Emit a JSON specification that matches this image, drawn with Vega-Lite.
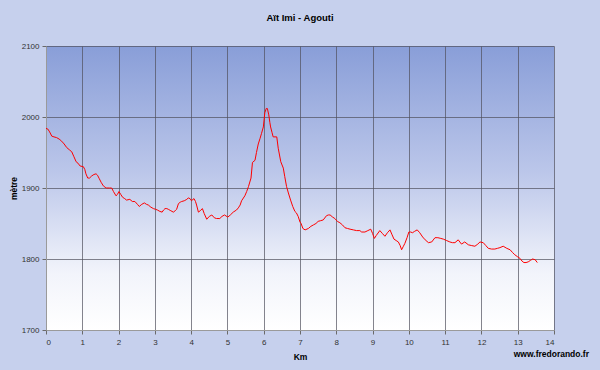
{
  "$schema": "https://vega.github.io/schema/vega-lite/v6.json",
  "width": 508,
  "height": 284,
  "autosize": "none",
  "padding": {"left": 46, "top": 46, "right": 46, "bottom": 40},
  "background": "#c6d0ed",
  "title": {
    "text": "Aït Imi - Agouti",
    "font": "Liberation Sans",
    "fontSize": 9.5,
    "fontWeight": "bold",
    "color": "#000000",
    "frame": "group",
    "anchor": "middle",
    "baseline": "bottom",
    "offset": 10
  },
  "datasets": {
    "profile": [
      {"km": 0.00, "alt": 1984}, {"km": 0.05, "alt": 1983}, {"km": 0.10, "alt": 1979}, {"km": 0.16, "alt": 1973},
      {"km": 0.22, "alt": 1972}, {"km": 0.29, "alt": 1971}, {"km": 0.36, "alt": 1969}, {"km": 0.43, "alt": 1966},
      {"km": 0.50, "alt": 1962}, {"km": 0.57, "alt": 1957}, {"km": 0.64, "alt": 1954}, {"km": 0.71, "alt": 1951},
      {"km": 0.77, "alt": 1944}, {"km": 0.83, "alt": 1937}, {"km": 0.88, "alt": 1935}, {"km": 0.94, "alt": 1931},
      {"km": 1.03, "alt": 1930}, {"km": 1.07, "alt": 1926}, {"km": 1.10, "alt": 1920}, {"km": 1.15, "alt": 1914},
      {"km": 1.20, "alt": 1914}, {"km": 1.26, "alt": 1917}, {"km": 1.32, "alt": 1919}, {"km": 1.38, "alt": 1920},
      {"km": 1.42, "alt": 1918}, {"km": 1.47, "alt": 1913}, {"km": 1.52, "alt": 1908}, {"km": 1.58, "alt": 1903},
      {"km": 1.63, "alt": 1901}, {"km": 1.67, "alt": 1900}, {"km": 1.75, "alt": 1900}, {"km": 1.81, "alt": 1900},
      {"km": 1.86, "alt": 1895}, {"km": 1.93, "alt": 1889}, {"km": 1.97, "alt": 1891}, {"km": 2.01, "alt": 1895},
      {"km": 2.06, "alt": 1891}, {"km": 2.11, "alt": 1887}, {"km": 2.17, "alt": 1885}, {"km": 2.22, "alt": 1883},
      {"km": 2.31, "alt": 1884}, {"km": 2.38, "alt": 1881}, {"km": 2.45, "alt": 1881}, {"km": 2.52, "alt": 1877},
      {"km": 2.57, "alt": 1874}, {"km": 2.64, "alt": 1877}, {"km": 2.71, "alt": 1879}, {"km": 2.77, "alt": 1877},
      {"km": 2.82, "alt": 1876}, {"km": 2.89, "alt": 1873}, {"km": 2.96, "alt": 1871}, {"km": 3.02, "alt": 1870},
      {"km": 3.07, "alt": 1869}, {"km": 3.14, "alt": 1867}, {"km": 3.20, "alt": 1866}, {"km": 3.24, "alt": 1869},
      {"km": 3.28, "alt": 1871}, {"km": 3.33, "alt": 1871}, {"km": 3.37, "alt": 1870}, {"km": 3.44, "alt": 1868},
      {"km": 3.51, "alt": 1866}, {"km": 3.56, "alt": 1868}, {"km": 3.60, "alt": 1870}, {"km": 3.65, "alt": 1878},
      {"km": 3.70, "alt": 1880}, {"km": 3.74, "alt": 1881}, {"km": 3.81, "alt": 1882}, {"km": 3.88, "alt": 1884},
      {"km": 3.92, "alt": 1886}, {"km": 3.97, "alt": 1885}, {"km": 4.01, "alt": 1882}, {"km": 4.05, "alt": 1884},
      {"km": 4.08, "alt": 1885}, {"km": 4.12, "alt": 1881}, {"km": 4.15, "alt": 1876}, {"km": 4.20, "alt": 1866},
      {"km": 4.25, "alt": 1868}, {"km": 4.31, "alt": 1871}, {"km": 4.36, "alt": 1864}, {"km": 4.43, "alt": 1856},
      {"km": 4.50, "alt": 1860}, {"km": 4.57, "alt": 1862}, {"km": 4.64, "alt": 1858}, {"km": 4.70, "alt": 1857},
      {"km": 4.79, "alt": 1857}, {"km": 4.85, "alt": 1860}, {"km": 4.92, "alt": 1862}, {"km": 5.01, "alt": 1859},
      {"km": 5.08, "alt": 1862}, {"km": 5.16, "alt": 1866}, {"km": 5.25, "alt": 1869}, {"km": 5.30, "alt": 1872},
      {"km": 5.35, "alt": 1876}, {"km": 5.39, "alt": 1882}, {"km": 5.48, "alt": 1889}, {"km": 5.53, "alt": 1895},
      {"km": 5.58, "alt": 1902}, {"km": 5.65, "alt": 1914}, {"km": 5.69, "alt": 1936}, {"km": 5.76, "alt": 1939},
      {"km": 5.80, "alt": 1950}, {"km": 5.85, "alt": 1962}, {"km": 5.90, "alt": 1970}, {"km": 5.94, "alt": 1977},
      {"km": 5.99, "alt": 1986}, {"km": 6.03, "alt": 2006}, {"km": 6.07, "alt": 2012}, {"km": 6.10, "alt": 2012},
      {"km": 6.14, "alt": 2003}, {"km": 6.17, "alt": 1992}, {"km": 6.19, "alt": 1986}, {"km": 6.23, "alt": 1978},
      {"km": 6.26, "alt": 1972}, {"km": 6.36, "alt": 1972}, {"km": 6.40, "alt": 1956}, {"km": 6.47, "alt": 1937},
      {"km": 6.54, "alt": 1928}, {"km": 6.58, "alt": 1916}, {"km": 6.63, "alt": 1902}, {"km": 6.68, "alt": 1893},
      {"km": 6.74, "alt": 1883}, {"km": 6.80, "alt": 1874}, {"km": 6.86, "alt": 1867}, {"km": 6.90, "alt": 1865},
      {"km": 6.95, "alt": 1860}, {"km": 7.00, "alt": 1852}, {"km": 7.03, "alt": 1850}, {"km": 7.08, "alt": 1843},
      {"km": 7.14, "alt": 1841}, {"km": 7.23, "alt": 1843}, {"km": 7.30, "alt": 1846}, {"km": 7.37, "alt": 1848},
      {"km": 7.44, "alt": 1850}, {"km": 7.50, "alt": 1853}, {"km": 7.57, "alt": 1854}, {"km": 7.64, "alt": 1855},
      {"km": 7.73, "alt": 1861}, {"km": 7.78, "alt": 1862}, {"km": 7.83, "alt": 1862}, {"km": 7.90, "alt": 1859},
      {"km": 7.96, "alt": 1857}, {"km": 8.03, "alt": 1853}, {"km": 8.10, "alt": 1851}, {"km": 8.17, "alt": 1848},
      {"km": 8.24, "alt": 1844}, {"km": 8.31, "alt": 1843}, {"km": 8.38, "alt": 1842}, {"km": 8.47, "alt": 1841},
      {"km": 8.56, "alt": 1840}, {"km": 8.65, "alt": 1840}, {"km": 8.70, "alt": 1838}, {"km": 8.79, "alt": 1838},
      {"km": 8.87, "alt": 1840}, {"km": 8.95, "alt": 1842}, {"km": 9.00, "alt": 1836}, {"km": 9.05, "alt": 1829},
      {"km": 9.10, "alt": 1833}, {"km": 9.20, "alt": 1840}, {"km": 9.27, "alt": 1836}, {"km": 9.34, "alt": 1832},
      {"km": 9.41, "alt": 1837}, {"km": 9.48, "alt": 1841}, {"km": 9.53, "alt": 1835}, {"km": 9.59, "alt": 1828},
      {"km": 9.65, "alt": 1826}, {"km": 9.71, "alt": 1824}, {"km": 9.76, "alt": 1819}, {"km": 9.80, "alt": 1813},
      {"km": 9.85, "alt": 1818}, {"km": 9.89, "alt": 1822}, {"km": 9.95, "alt": 1830}, {"km": 10.00, "alt": 1838},
      {"km": 10.05, "alt": 1838}, {"km": 10.10, "alt": 1837}, {"km": 10.16, "alt": 1839}, {"km": 10.23, "alt": 1841},
      {"km": 10.30, "alt": 1837}, {"km": 10.38, "alt": 1831}, {"km": 10.45, "alt": 1827}, {"km": 10.54, "alt": 1823},
      {"km": 10.63, "alt": 1824}, {"km": 10.72, "alt": 1830}, {"km": 10.80, "alt": 1830}, {"km": 10.88, "alt": 1829},
      {"km": 10.95, "alt": 1828}, {"km": 11.04, "alt": 1826}, {"km": 11.13, "alt": 1824}, {"km": 11.20, "alt": 1823},
      {"km": 11.27, "alt": 1823}, {"km": 11.36, "alt": 1827}, {"km": 11.45, "alt": 1821}, {"km": 11.54, "alt": 1824},
      {"km": 11.64, "alt": 1820}, {"km": 11.72, "alt": 1819}, {"km": 11.82, "alt": 1818}, {"km": 11.90, "alt": 1821},
      {"km": 11.96, "alt": 1824}, {"km": 12.05, "alt": 1823}, {"km": 12.12, "alt": 1819}, {"km": 12.19, "alt": 1815},
      {"km": 12.28, "alt": 1814}, {"km": 12.37, "alt": 1814}, {"km": 12.44, "alt": 1815}, {"km": 12.51, "alt": 1816},
      {"km": 12.60, "alt": 1818}, {"km": 12.70, "alt": 1815}, {"km": 12.79, "alt": 1813}, {"km": 12.86, "alt": 1809},
      {"km": 12.92, "alt": 1806}, {"km": 13.00, "alt": 1803}, {"km": 13.06, "alt": 1801}, {"km": 13.12, "alt": 1797},
      {"km": 13.17, "alt": 1795}, {"km": 13.23, "alt": 1795}, {"km": 13.29, "alt": 1796}, {"km": 13.35, "alt": 1798},
      {"km": 13.41, "alt": 1800}, {"km": 13.48, "alt": 1799}, {"km": 13.54, "alt": 1795}
    ],
    "credit": [{"km": 14, "alt": 1700, "label": "www.fredorando.fr"}],
    "panel": [{"part": "fond"}]
  },
  "encoding": {
    "x": {
      "field": "km", "type": "quantitative",
      "scale": {"domain": [0, 14], "nice": false, "zero": false},
      "axis": {"title": "Km", "values": [0,1,2,3,4,5,6,7,8,9,10,11,12,13,14], "tickCount": 30, "format": "d", "labelOverlap": false, "titlePadding": 6}
    },
    "y": {
      "field": "alt", "type": "quantitative",
      "scale": {"domain": [1700, 2100], "nice": false, "zero": false},
      "axis": {"title": "mètre", "values": [1700,1800,1900,2000,2100], "tickCount": 10, "format": "d", "labelOverlap": false, "titlePadding": 3}
    }
  },
  "layer": [
    {
      "data": {"name": "panel"},
      "mark": {
        "type": "rect", "clip": false,
        "color": {
          "gradient": "linear", "x1": 0, "y1": 0, "x2": 0, "y2": 1,
          "stops": [
            {"offset": 0, "color": "#ffffff"},
            {"offset": 0.3, "color": "#f3f5fb"},
            {"offset": 0.62, "color": "#ccd4ef"},
            {"offset": 1, "color": "#889ed8"}
          ]
        }
      },
      "encoding": {
        "x": {"datum": -1.5, "type": "quantitative"}, "x2": {"datum": 15.5},
        "y": {"datum": 2175, "type": "quantitative"}, "y2": {"datum": 1630}
      }
    },
    {
      "data": {"name": "panel"},
      "mark": {
        "type": "rect", "clip": false,
        "color": {
          "gradient": "linear", "x1": 0, "y1": 0, "x2": 0, "y2": 1,
          "stops": [
            {"offset": 0, "color": "#899ed8"},
            {"offset": 0.45, "color": "#bcc7ea"},
            {"offset": 0.8, "color": "#f2f4fb"},
            {"offset": 1, "color": "#ffffff"}
          ]
        }
      },
      "encoding": {
        "x": {"datum": 0, "type": "quantitative"}, "x2": {"datum": 14},
        "y": {"datum": 2100, "type": "quantitative"}, "y2": {"datum": 1700}
      }
    },
    {
      "data": {"name": "profile"},
      "mark": {"type": "line", "color": "#ff0000", "strokeWidth": 1, "interpolate": "linear"}
    },
    {
      "data": {"name": "credit"},
      "mark": {"type": "text", "align": "right", "baseline": "middle", "dx": 35, "dy": 24, "font": "Liberation Sans", "fontSize": 8.5, "fontWeight": "bold", "color": "#000000"},
      "encoding": {
        "text": {"field": "label"}
      }
    }
  ],
  "config": {
    "view": {
      "stroke": null,
      "fill": {
        "gradient": "linear", "x1": 0, "y1": 0, "x2": 0, "y2": 1,
        "stops": [
          {"offset": 0, "color": "#899ed8"},
          {"offset": 0.45, "color": "#bcc7ea"},
          {"offset": 0.8, "color": "#f2f4fb"},
          {"offset": 1, "color": "#ffffff"}
        ]
      }
    },
    "axis": {
      "zindex": 1,
      "labelFont": "Liberation Sans",
      "labelFontSize": 8,
      "labelColor": "#333333",
      "titleFont": "Liberation Sans",
      "titleFontSize": 8.5,
      "titleFontWeight": "bold",
      "titleColor": "#000000",
      "grid": true,
      "gridColor": "#50505c",
      "gridOpacity": 0.7,
      "gridWidth": 1,
      "domainColor": "#9a9a9a",
      "tickColor": "#6a6a6a",
      "tickSize": 4,
      "labelPadding": 3
    },
    "axisX": {"labelPadding": 4}
  }
}
